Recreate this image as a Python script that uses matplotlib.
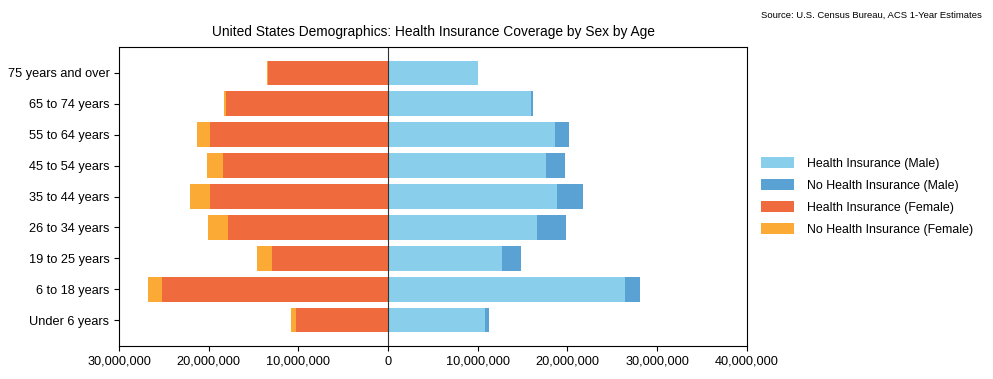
import numpy as np
import matplotlib

matplotlib.use("Agg")
import matplotlib.pyplot as plt
from matplotlib.ticker import FuncFormatter

plt.rcParams["font.family"] = ["Liberation Sans", "DejaVu Sans"]

# Age groups, bottom to top
age_groups = [
    "Under 6 years",
    "6 to 18 years",
    "19 to 25 years",
    "26 to 34 years",
    "35 to 44 years",
    "45 to 54 years",
    "55 to 64 years",
    "65 to 74 years",
    "75 years and over",
]

# Values (people)
male_insured = [10_790_000, 26_420_000, 12_690_000, 16_600_000, 18_830_000,
                17_600_000, 18_600_000, 15_930_000, 9_980_000]
male_uninsured = [450_000, 1_670_000, 2_120_000, 3_240_000, 2_900_000,
                  2_120_000, 1_560_000, 220_000, 50_000]
female_insured = [10_300_000, 25_260_000, 12_980_000, 17_890_000, 19_900_000,
                  18_450_000, 19_900_000, 18_110_000, 13_390_000]
female_uninsured = [560_000, 1_560_000, 1_670_000, 2_230_000, 2_230_000,
                    1_790_000, 1_450_000, 150_000, 80_000]

colors = {
    "male_ins": "#89CEEB",
    "male_unins": "#5AA2D3",
    "female_ins": "#EF6A3C",
    "female_unins": "#FBAA36",
}

fig = plt.figure(figsize=(9.93, 3.79), dpi=100)
ax = fig.add_axes([0.12, 0.087, 0.632, 0.789])

y = np.arange(len(age_groups))
mi = np.array(male_insured)
mu = np.array(male_uninsured)
fi = np.array(female_insured)
fu = np.array(female_uninsured)

ax.barh(y, mi, height=0.8, color=colors["male_ins"], label="Health Insurance (Male)")
ax.barh(y, mu, left=mi, height=0.8, color=colors["male_unins"],
        label="No Health Insurance (Male)")
ax.barh(y, -fi, height=0.8, color=colors["female_ins"],
        label="Health Insurance (Female)")
ax.barh(y, -fu, left=-fi, height=0.8, color=colors["female_unins"],
        label="No Health Insurance (Female)")

ax.axvline(0, color="#333333", linewidth=0.8)

ax.set_xlim(-30_000_000, 40_000_000)
ax.set_xticks(np.arange(-30_000_000, 40_000_001, 10_000_000))
ax.xaxis.set_major_formatter(FuncFormatter(lambda v, p: f"{abs(int(v)):,}"))
ax.set_yticks(y)
ax.set_yticklabels(age_groups)
ax.tick_params(labelsize=9.2)

ax.set_title("United States Demographics: Health Insurance Coverage by Sex by Age",
             fontsize=9.9, pad=8)
fig.text(0.989, 0.96, "Source: U.S. Census Bureau, ACS 1-Year Estimates",
         ha="right", va="center", fontsize=6.8)

ax.legend(loc="center left", bbox_to_anchor=(1.005, 0.5), frameon=False,
          fontsize=8.9, handlelength=2.7, handleheight=1.0, labelspacing=0.75,
          handletextpad=1.0)

fig.savefig("out.png", dpi=100)
plt.close(fig)
